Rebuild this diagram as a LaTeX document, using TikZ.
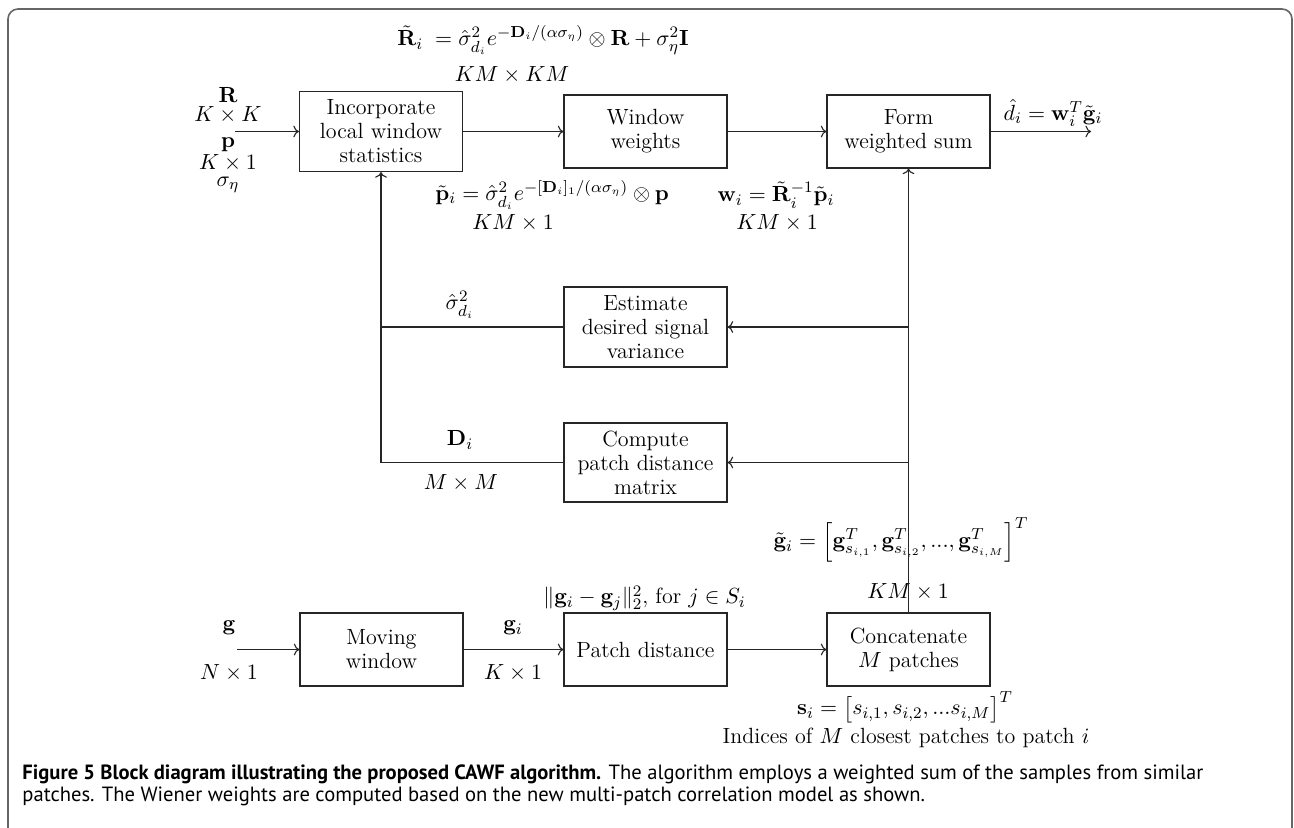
\documentclass[tikz,border=0pt]{standalone}
\usepackage{amsmath,amssymb}
\usepackage[no-math]{fontspec}
\newfontfamily\capfont{PT Sans}
\usetikzlibrary{arrows.meta}
\begin{document}
\begin{tikzpicture}[x=0.5pt,y=-0.5pt,font=\fontsize{11}{12}\selectfont,
  blk/.style={draw=black!85,line width=0.55pt,minimum width=81.5pt,align=center,inner sep=0pt},
  lbl/.style={inner sep=0pt},
  conn/.style={draw=black!85,line width=0.55pt,->},
  wire/.style={draw=black!85,line width=0.55pt},
  captxt/.style={inner sep=0pt,anchor=base west,font=\capfont\fontsize{10.3}{12}\selectfont}]
\useasboundingbox (0,0) rectangle (1294,827);
\draw[black!60,line width=0.8pt,rounded corners=5pt] (8,900) -- (8,9) -- (1292,9) -- (1292,900);

% blocks
\node[blk,minimum height=40pt] (inc) at (381,131.5) {Incorporate\\local window\\statistics};
\node[blk,minimum height=36.5pt] (win) at (645.5,131.5) {Window\\weights};
\node[blk,minimum height=36.5pt] (form) at (908.5,131.5) {Form\\weighted sum};
\node[blk,minimum height=40pt] (est) at (645.5,327) {Estimate\\desired signal\\variance};
\node[blk,minimum height=39.5pt] (comp) at (645.5,462.5) {Compute\\patch distance\\matrix};
\node[blk,minimum height=36.5pt] (mov) at (381.5,649.5) {Moving\\window};
\node[blk,minimum height=36.5pt] (pd) at (645.5,649.5) {Patch distance};
\node[blk,minimum height=36.5pt] (conc) at (908.5,649.5) {Concatenate\\$M$ patches};

% free ends
\coordinate (inR) at (235,131.5);
\coordinate (outD) at (1091,131.5);
\coordinate (inG) at (237,649.5);
\coordinate (jE) at (908.5,327);
\coordinate (jC) at (908.5,462.5);

% labels
\node[lbl] (lR) at (228,95) {$\mathbf{R}$};
\node[lbl] (lKK) at (228,115) {$K\times K$};
\node[lbl] (lp) at (228,145) {$\mathbf{p}$};
\node[lbl] (lK1) at (228,163) {$K\times 1$};
\node[lbl] (lsig) at (228,185) {$\sigma_\eta$};
\node[lbl,anchor=west] (eqR) at (397,40) {$\tilde{\mathbf{R}}_i\;=\hat\sigma^2_{d_i}e^{-\mathbf{D}_i/(\alpha\sigma_\eta)}\otimes\mathbf{R}+\sigma^2_\eta\mathbf{I}$};
\node[lbl] (lKMKM) at (512,75) {$KM\times KM$};
\node[lbl,anchor=west] (eqp) at (435,195) {$\tilde{\mathbf{p}}_i=\hat\sigma^2_{d_i}e^{-[\mathbf{D}_i]_1/(\alpha\sigma_\eta)}\otimes\mathbf{p}$};
\node[lbl] (lKM1a) at (513,223) {$KM\times 1$};
\node[lbl] (eqw) at (776,195) {$\mathbf{w}_i=\tilde{\mathbf{R}}_i^{-1}\tilde{\mathbf{p}}_i$};
\node[lbl] (lKM1b) at (777,223) {$KM\times 1$};
\node[lbl] (eqd) at (1053,113) {$\hat d_i=\mathbf{w}_i^T\tilde{\mathbf{g}}_i$};
\node[lbl] (lsd) at (460,305) {$\hat\sigma^2_{d_i}$};
\node[lbl] (lD) at (460,440) {$\mathbf{D}_i$};
\node[lbl] (lMM) at (461,483) {$M\times M$};
\node[lbl] (eqg) at (901,540) {$\tilde{\mathbf{g}}_i=\Big[\mathbf{g}^T_{s_{i,1}},\mathbf{g}^T_{s_{i,2}},...,\mathbf{g}^T_{s_{i,M}}\Big]^T$};
\node[lbl] (lKM1c) at (908,592) {$KM\times 1$};
\node[lbl,anchor=west] (eqn) at (543,598) {$\|\mathbf{g}_i-\mathbf{g}_j\|_2^2$, for $j\in S_i$};
\node[lbl] (lg) at (229,628) {$\mathbf{g}$};
\node[lbl] (lN1) at (229,673) {$N\times 1$};
\node[lbl] (lgi) at (513,628) {$\mathbf{g}_i$};
\node[lbl] (lK1b) at (513,673) {$K\times 1$};
\node[lbl] (eqs) at (905,707) {$\mathbf{s}_i=\big[s_{i,1},s_{i,2},...s_{i,M}\big]^T$};
\node[lbl] (lidx) at (906,738) {Indices of $M$ closest patches to patch $i$};

% connectors
\draw[conn] (inR) -- (inc);
\draw[conn] (inc) -- (win);
\draw[conn] (win) -- (form);
\draw[conn] (form) -- (outD);
\draw[conn] (conc) -- (form);
\draw[conn] (jE) -- (est);
\draw[conn] (jC) -- (comp);
\draw[wire] (est.west) -- (est.west -| inc.south);
\draw[conn] (comp.west) -| (inc.south);
\draw[conn] (inG) -- (mov);
\draw[conn] (mov) -- (pd);
\draw[conn] (pd) -- (conc);

% caption
\node[captxt] (cap1) at (22,779) {\textbf{Figure 5 Block diagram illustrating the proposed CAWF algorithm.} The algorithm employs a weighted sum of the samples from similar};
\node[captxt] (cap2) at (22,801) {patches. The Wiener weights are computed based on the new multi-patch correlation model as shown.};
\end{tikzpicture}
\end{document}
